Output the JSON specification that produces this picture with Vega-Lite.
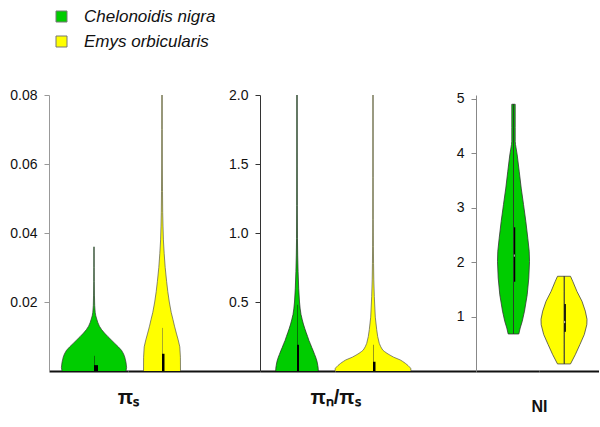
{
"$schema":"https://vega.github.io/schema/vega-lite/v6.json",
"padding":{"left":9,"top":8,"right":0,"bottom":0},
"bounds":"flush",
"spacing":0,
"config":{"view":{"stroke":null}},
"datasets":{
"violin":[
{"p":"piS","sp":"Chelonoidis nigra","v":0,"w":32.0},
{"p":"piS","sp":"Chelonoidis nigra","v":0.001,"w":32.6},
{"p":"piS","sp":"Chelonoidis nigra","v":0.0025,"w":32.0},
{"p":"piS","sp":"Chelonoidis nigra","v":0.004,"w":30.8},
{"p":"piS","sp":"Chelonoidis nigra","v":0.005,"w":29.5},
{"p":"piS","sp":"Chelonoidis nigra","v":0.006,"w":27.5},
{"p":"piS","sp":"Chelonoidis nigra","v":0.007,"w":24.3},
{"p":"piS","sp":"Chelonoidis nigra","v":0.008,"w":20.8},
{"p":"piS","sp":"Chelonoidis nigra","v":0.009,"w":17.3},
{"p":"piS","sp":"Chelonoidis nigra","v":0.010,"w":13.8},
{"p":"piS","sp":"Chelonoidis nigra","v":0.011,"w":10.5},
{"p":"piS","sp":"Chelonoidis nigra","v":0.012,"w":7.6},
{"p":"piS","sp":"Chelonoidis nigra","v":0.013,"w":5.4},
{"p":"piS","sp":"Chelonoidis nigra","v":0.014,"w":3.9},
{"p":"piS","sp":"Chelonoidis nigra","v":0.015,"w":2.8},
{"p":"piS","sp":"Chelonoidis nigra","v":0.016,"w":1.8},
{"p":"piS","sp":"Chelonoidis nigra","v":0.017,"w":1.2},
{"p":"piS","sp":"Chelonoidis nigra","v":0.019,"w":0.7},
{"p":"piS","sp":"Chelonoidis nigra","v":0.022,"w":0.45},
{"p":"piS","sp":"Chelonoidis nigra","v":0.026,"w":0.3},
{"p":"piS","sp":"Chelonoidis nigra","v":0.030,"w":0.25},
{"p":"piS","sp":"Chelonoidis nigra","v":0.036,"w":0.2},
{"p":"piS","sp":"Emys orbicularis","v":0,"w":18.5},
{"p":"piS","sp":"Emys orbicularis","v":0.004,"w":18.4},
{"p":"piS","sp":"Emys orbicularis","v":0.007,"w":17.8},
{"p":"piS","sp":"Emys orbicularis","v":0.009,"w":16.2},
{"p":"piS","sp":"Emys orbicularis","v":0.011,"w":14.3},
{"p":"piS","sp":"Emys orbicularis","v":0.013,"w":12.5},
{"p":"piS","sp":"Emys orbicularis","v":0.015,"w":10.9},
{"p":"piS","sp":"Emys orbicularis","v":0.017,"w":9.2},
{"p":"piS","sp":"Emys orbicularis","v":0.020,"w":7.3},
{"p":"piS","sp":"Emys orbicularis","v":0.023,"w":5.8},
{"p":"piS","sp":"Emys orbicularis","v":0.026,"w":4.6},
{"p":"piS","sp":"Emys orbicularis","v":0.030,"w":3.2},
{"p":"piS","sp":"Emys orbicularis","v":0.034,"w":2.2},
{"p":"piS","sp":"Emys orbicularis","v":0.038,"w":1.4},
{"p":"piS","sp":"Emys orbicularis","v":0.042,"w":1.0},
{"p":"piS","sp":"Emys orbicularis","v":0.046,"w":0.7},
{"p":"piS","sp":"Emys orbicularis","v":0.052,"w":0.5},
{"p":"piS","sp":"Emys orbicularis","v":0.060,"w":0.35},
{"p":"piS","sp":"Emys orbicularis","v":0.070,"w":0.3},
{"p":"piS","sp":"Emys orbicularis","v":0.080,"w":0.25},
{"p":"ratio","sp":"Chelonoidis nigra","v":0,"w":21.3},
{"p":"ratio","sp":"Chelonoidis nigra","v":0.02,"w":21.2},
{"p":"ratio","sp":"Chelonoidis nigra","v":0.04,"w":20.8},
{"p":"ratio","sp":"Chelonoidis nigra","v":0.07,"w":20.0},
{"p":"ratio","sp":"Chelonoidis nigra","v":0.10,"w":18.7},
{"p":"ratio","sp":"Chelonoidis nigra","v":0.12,"w":17.6},
{"p":"ratio","sp":"Chelonoidis nigra","v":0.15,"w":16.0},
{"p":"ratio","sp":"Chelonoidis nigra","v":0.17,"w":14.8},
{"p":"ratio","sp":"Chelonoidis nigra","v":0.20,"w":13.2},
{"p":"ratio","sp":"Chelonoidis nigra","v":0.22,"w":12.0},
{"p":"ratio","sp":"Chelonoidis nigra","v":0.25,"w":10.6},
{"p":"ratio","sp":"Chelonoidis nigra","v":0.28,"w":9.1},
{"p":"ratio","sp":"Chelonoidis nigra","v":0.31,"w":7.7},
{"p":"ratio","sp":"Chelonoidis nigra","v":0.34,"w":6.4},
{"p":"ratio","sp":"Chelonoidis nigra","v":0.37,"w":5.3},
{"p":"ratio","sp":"Chelonoidis nigra","v":0.41,"w":4.0},
{"p":"ratio","sp":"Chelonoidis nigra","v":0.45,"w":3.2},
{"p":"ratio","sp":"Chelonoidis nigra","v":0.50,"w":2.5},
{"p":"ratio","sp":"Chelonoidis nigra","v":0.60,"w":1.7},
{"p":"ratio","sp":"Chelonoidis nigra","v":0.72,"w":1.1},
{"p":"ratio","sp":"Chelonoidis nigra","v":0.84,"w":0.7},
{"p":"ratio","sp":"Chelonoidis nigra","v":0.96,"w":0.45},
{"p":"ratio","sp":"Chelonoidis nigra","v":1.2,"w":0.3},
{"p":"ratio","sp":"Chelonoidis nigra","v":1.5,"w":0.25},
{"p":"ratio","sp":"Chelonoidis nigra","v":2.0,"w":0.2},
{"p":"ratio","sp":"Emys orbicularis","v":0,"w":38.0},
{"p":"ratio","sp":"Emys orbicularis","v":0.02,"w":37.7},
{"p":"ratio","sp":"Emys orbicularis","v":0.04,"w":35.0},
{"p":"ratio","sp":"Emys orbicularis","v":0.056,"w":32.3},
{"p":"ratio","sp":"Emys orbicularis","v":0.07,"w":29.5},
{"p":"ratio","sp":"Emys orbicularis","v":0.08,"w":27.3},
{"p":"ratio","sp":"Emys orbicularis","v":0.09,"w":24.0},
{"p":"ratio","sp":"Emys orbicularis","v":0.10,"w":20.7},
{"p":"ratio","sp":"Emys orbicularis","v":0.115,"w":17.0},
{"p":"ratio","sp":"Emys orbicularis","v":0.128,"w":14.0},
{"p":"ratio","sp":"Emys orbicularis","v":0.14,"w":11.7},
{"p":"ratio","sp":"Emys orbicularis","v":0.152,"w":9.7},
{"p":"ratio","sp":"Emys orbicularis","v":0.175,"w":7.8},
{"p":"ratio","sp":"Emys orbicularis","v":0.20,"w":6.3},
{"p":"ratio","sp":"Emys orbicularis","v":0.25,"w":4.7},
{"p":"ratio","sp":"Emys orbicularis","v":0.30,"w":3.7},
{"p":"ratio","sp":"Emys orbicularis","v":0.39,"w":2.3},
{"p":"ratio","sp":"Emys orbicularis","v":0.54,"w":1.3},
{"p":"ratio","sp":"Emys orbicularis","v":0.66,"w":0.8},
{"p":"ratio","sp":"Emys orbicularis","v":0.78,"w":0.55},
{"p":"ratio","sp":"Emys orbicularis","v":0.90,"w":0.4},
{"p":"ratio","sp":"Emys orbicularis","v":1.1,"w":0.3},
{"p":"ratio","sp":"Emys orbicularis","v":1.4,"w":0.25},
{"p":"ratio","sp":"Emys orbicularis","v":2.0,"w":0.2},
{"p":"NI","sp":"Chelonoidis nigra","v":0.68,"w":5.3},
{"p":"NI","sp":"Chelonoidis nigra","v":0.79,"w":6.7},
{"p":"NI","sp":"Chelonoidis nigra","v":0.91,"w":8.7},
{"p":"NI","sp":"Chelonoidis nigra","v":1.10,"w":11.0},
{"p":"NI","sp":"Chelonoidis nigra","v":1.40,"w":13.7},
{"p":"NI","sp":"Chelonoidis nigra","v":1.71,"w":15.3},
{"p":"NI","sp":"Chelonoidis nigra","v":2.01,"w":16.0},
{"p":"NI","sp":"Chelonoidis nigra","v":2.20,"w":15.7},
{"p":"NI","sp":"Chelonoidis nigra","v":2.44,"w":14.3},
{"p":"NI","sp":"Chelonoidis nigra","v":2.75,"w":12.3},
{"p":"NI","sp":"Chelonoidis nigra","v":3.06,"w":10.0},
{"p":"NI","sp":"Chelonoidis nigra","v":3.36,"w":7.7},
{"p":"NI","sp":"Chelonoidis nigra","v":3.67,"w":5.7},
{"p":"NI","sp":"Chelonoidis nigra","v":3.97,"w":3.7},
{"p":"NI","sp":"Chelonoidis nigra","v":4.16,"w":2.0},
{"p":"NI","sp":"Chelonoidis nigra","v":4.22,"w":1.7},
{"p":"NI","sp":"Chelonoidis nigra","v":4.47,"w":1.7},
{"p":"NI","sp":"Chelonoidis nigra","v":4.90,"w":1.7},
{"p":"NI","sp":"Emys orbicularis","v":0.13,"w":6.5},
{"p":"NI","sp":"Emys orbicularis","v":0.30,"w":11.3},
{"p":"NI","sp":"Emys orbicularis","v":0.49,"w":16.0},
{"p":"NI","sp":"Emys orbicularis","v":0.67,"w":20.3},
{"p":"NI","sp":"Emys orbicularis","v":0.85,"w":22.8},
{"p":"NI","sp":"Emys orbicularis","v":0.95,"w":23.0},
{"p":"NI","sp":"Emys orbicularis","v":1.10,"w":21.3},
{"p":"NI","sp":"Emys orbicularis","v":1.28,"w":18.0},
{"p":"NI","sp":"Emys orbicularis","v":1.46,"w":13.0},
{"p":"NI","sp":"Emys orbicularis","v":1.65,"w":8.7},
{"p":"NI","sp":"Emys orbicularis","v":1.74,"w":6.5}
],
"box":[
{"p":"piS","sp":"Chelonoidis nigra","q1":0,"q3":0.0017,"lo":0,"hi":0.0044},
{"p":"piS","sp":"Emys orbicularis","q1":0,"q3":0.005,"lo":0,"hi":0.0125},
{"p":"ratio","sp":"Chelonoidis nigra","q1":0,"q3":0.19,"lo":0,"hi":0.48},
{"p":"ratio","sp":"Emys orbicularis","q1":0,"q3":0.067,"lo":0,"hi":0.19},
{"p":"NI","sp":"Chelonoidis nigra","q1":1.64,"q3":2.64,"lo":0.68,"hi":4.90,"med":2.12},
{"p":"NI","sp":"Emys orbicularis","q1":0.72,"q3":1.23,"lo":0.13,"hi":1.74,"med":0.90}
]
},
"hconcat":[
{
"width":79,"height":276,
"resolve":{"scale":{"x":"independent"}},
"layer":[
{"layer":[
{"data":{"name":"violin"},"transform":[{"filter":"datum.p=='piS' && datum.sp=='Chelonoidis nigra'"}],
"mark":{"type":"area","orient":"horizontal","opacity":1},
"encoding":{
"y":{"field":"v","type":"quantitative","title":null,"scale":{"domain":[0,0.08],"nice":false,"zero":false},"axis":{"values":[0.02,0.04,0.06,0.08],"format":".2f","title":null,"grid":false,"domainColor":"#999","tickColor":"#999","tickSize":5,"labelFontSize":14,"labelFont":"Liberation Sans","labelColor":"#111","labelPadding":7}},
"x":{"field":"w","type":"quantitative","scale":{"domain":[-45,34],"nice":false,"zero":false},"axis":{"title":"πₛ","ticks":false,"labels":false,"grid":false,"domainColor":"#111","domainWidth":2,"titleFont":"Liberation Sans","titleFontSize":20,"titleFontWeight":"bold","titleColor":"#111","titleAnchor":"end","titleAlign":"center","titlePadding":16}},
"x2":{"datum":0},
"fill":{"field":"sp","type":"nominal","scale":{"domain":["Chelonoidis nigra","Emys orbicularis"],"range":["#00cc00","#ffff00"]},"legend":{"orient":"none","legendX":4,"legendY":-87,"title":null,"symbolType":"square","symbolSize":121,"symbolStrokeColor":"#777","symbolStrokeWidth":1,"symbolOpacity":1,"labelFontSize":17,"labelFontStyle":"italic","labelFont":"Liberation Sans","labelColor":"#111","labelOffset":14,"rowPadding":7,"padding":0}}}},
{"data":{"name":"violin"},"transform":[{"filter":"datum.p=='piS' && datum.sp=='Chelonoidis nigra'"}],
"mark":{"type":"line","stroke":"#333","strokeWidth":0.7},
"encoding":{
"y":{"field":"v","type":"quantitative","title":null,"scale":{"domain":[0,0.08],"nice":false,"zero":false}},
"x":{"field":"w","type":"quantitative","scale":{"domain":[-45,34],"nice":false,"zero":false}},
"order":{"field":"v","type":"quantitative"}}},
{"data":{"name":"box"},"transform":[{"filter":"datum.p=='piS' && datum.sp=='Chelonoidis nigra'"}],
"mark":{"type":"rule","color":"#111","strokeWidth":1},
"encoding":{
"y":{"field":"lo","type":"quantitative","title":null,"scale":{"domain":[0,0.08],"nice":false,"zero":false}},
"y2":{"field":"hi"},
"x":{"datum":0,"type":"quantitative","scale":{"domain":[-45,34],"nice":false,"zero":false}}}},
{"data":{"name":"box"},"transform":[{"filter":"datum.p=='piS' && datum.sp=='Chelonoidis nigra'"}],
"mark":{"type":"rule","color":"#000","strokeWidth":8},
"encoding":{
"y":{"field":"q1","type":"quantitative","title":null,"scale":{"domain":[0,0.08],"nice":false,"zero":false}},
"y2":{"field":"q3"},
"x":{"datum":0,"type":"quantitative","scale":{"domain":[-45,34],"nice":false,"zero":false}}}}
]},
{"layer":[
{"data":{"name":"violin"},"transform":[{"filter":"datum.p=='piS' && datum.sp=='Chelonoidis nigra'"}],
"mark":{"type":"area","orient":"horizontal","opacity":1},
"encoding":{
"y":{"field":"v","type":"quantitative","title":null,"scale":{"domain":[0,0.08],"nice":false,"zero":false}},
"x":{"field":"w","type":"quantitative","scale":{"domain":[-34,45],"nice":false,"zero":false,"reverse":true},"axis":null},
"x2":{"datum":0},
"fill":{"field":"sp","type":"nominal","scale":{"domain":["Chelonoidis nigra","Emys orbicularis"],"range":["#00cc00","#ffff00"]}}}},
{"data":{"name":"violin"},"transform":[{"filter":"datum.p=='piS' && datum.sp=='Chelonoidis nigra'"}],
"mark":{"type":"line","stroke":"#333","strokeWidth":0.7},
"encoding":{
"y":{"field":"v","type":"quantitative","title":null,"scale":{"domain":[0,0.08],"nice":false,"zero":false}},
"x":{"field":"w","type":"quantitative","scale":{"domain":[-34,45],"nice":false,"zero":false,"reverse":true},"axis":null},
"order":{"field":"v","type":"quantitative"}}}
]}
]
},
{
"width":132,"height":276,
"resolve":{"scale":{"x":"independent"}},
"layer":[
{"layer":[
{"data":{"name":"violin"},"transform":[{"filter":"datum.p=='piS' && datum.sp=='Emys orbicularis'"}],
"mark":{"type":"area","orient":"horizontal","opacity":1},
"encoding":{
"y":{"field":"v","type":"quantitative","scale":{"domain":[0,0.08],"nice":false,"zero":false},"axis":null},
"x":{"field":"w","type":"quantitative","scale":{"domain":[-34,98],"nice":false,"zero":false},"axis":{"title":null,"ticks":false,"labels":false,"grid":false,"domainColor":"#111","domainWidth":2}},
"x2":{"datum":0},
"fill":{"field":"sp","type":"nominal","scale":{"domain":["Chelonoidis nigra","Emys orbicularis"],"range":["#00cc00","#ffff00"]}}}},
{"data":{"name":"violin"},"transform":[{"filter":"datum.p=='piS' && datum.sp=='Emys orbicularis'"}],
"mark":{"type":"line","stroke":"#555","strokeWidth":0.7},
"encoding":{
"y":{"field":"v","type":"quantitative","scale":{"domain":[0,0.08],"nice":false,"zero":false},"axis":null},
"x":{"field":"w","type":"quantitative","scale":{"domain":[-34,98],"nice":false,"zero":false}},
"order":{"field":"v","type":"quantitative"}}},
{"data":{"name":"box"},"transform":[{"filter":"datum.p=='piS' && datum.sp=='Emys orbicularis'"}],
"mark":{"type":"rule","color":"#555","strokeWidth":1},
"encoding":{
"y":{"field":"lo","type":"quantitative","scale":{"domain":[0,0.08],"nice":false,"zero":false},"axis":null},
"y2":{"field":"hi"},
"x":{"datum":0,"type":"quantitative","scale":{"domain":[-34,98],"nice":false,"zero":false}}}},
{"data":{"name":"box"},"transform":[{"filter":"datum.p=='piS' && datum.sp=='Emys orbicularis'"}],
"mark":{"type":"rule","color":"#000","strokeWidth":5},
"encoding":{
"y":{"field":"q1","type":"quantitative","scale":{"domain":[0,0.08],"nice":false,"zero":false},"axis":null},
"y2":{"field":"q3"},
"x":{"datum":0,"type":"quantitative","scale":{"domain":[-34,98],"nice":false,"zero":false}}}}
]},
{"layer":[
{"data":{"name":"violin"},"transform":[{"filter":"datum.p=='piS' && datum.sp=='Emys orbicularis'"}],
"mark":{"type":"area","orient":"horizontal","opacity":1},
"encoding":{
"y":{"field":"v","type":"quantitative","scale":{"domain":[0,0.08],"nice":false,"zero":false},"axis":null},
"x":{"field":"w","type":"quantitative","scale":{"domain":[-98,34],"nice":false,"zero":false,"reverse":true},"axis":null},
"x2":{"datum":0},
"fill":{"field":"sp","type":"nominal","scale":{"domain":["Chelonoidis nigra","Emys orbicularis"],"range":["#00cc00","#ffff00"]}}}},
{"data":{"name":"violin"},"transform":[{"filter":"datum.p=='piS' && datum.sp=='Emys orbicularis'"}],
"mark":{"type":"line","stroke":"#555","strokeWidth":0.7},
"encoding":{
"y":{"field":"v","type":"quantitative","scale":{"domain":[0,0.08],"nice":false,"zero":false},"axis":null},
"x":{"field":"w","type":"quantitative","scale":{"domain":[-98,34],"nice":false,"zero":false,"reverse":true},"axis":null},
"order":{"field":"v","type":"quantitative"}}}
]}
]
},
{
"width":75,"height":276,
"resolve":{"scale":{"x":"independent"}},
"layer":[
{"layer":[
{"data":{"name":"violin"},"transform":[{"filter":"datum.p=='ratio' && datum.sp=='Chelonoidis nigra'"}],
"mark":{"type":"area","orient":"horizontal","opacity":1},
"encoding":{
"y":{"field":"v","type":"quantitative","title":null,"scale":{"domain":[0,2],"nice":false,"zero":false},"axis":{"values":[0.5,1,1.5,2],"format":".1f","title":null,"grid":false,"domainColor":"#333","tickColor":"#333","tickSize":5,"labelFontSize":14,"labelFont":"Liberation Sans","labelColor":"#111","labelPadding":7}},
"x":{"field":"w","type":"quantitative","scale":{"domain":[-37,38],"nice":false,"zero":false},"axis":{"title":"πₙ/πₛ","ticks":false,"labels":false,"grid":false,"domainColor":"#111","domainWidth":2,"titleFont":"Liberation Sans","titleFontSize":20,"titleFontWeight":"bold","titleColor":"#111","titleAnchor":"end","titleAlign":"center","titlePadding":16}},
"x2":{"datum":0},
"fill":{"field":"sp","type":"nominal","scale":{"domain":["Chelonoidis nigra","Emys orbicularis"],"range":["#00cc00","#ffff00"]}}}},
{"data":{"name":"violin"},"transform":[{"filter":"datum.p=='ratio' && datum.sp=='Chelonoidis nigra'"}],
"mark":{"type":"line","stroke":"#222","strokeWidth":0.7},
"encoding":{
"y":{"field":"v","type":"quantitative","title":null,"scale":{"domain":[0,2],"nice":false,"zero":false}},
"x":{"field":"w","type":"quantitative","scale":{"domain":[-37,38],"nice":false,"zero":false}},
"order":{"field":"v","type":"quantitative"}}},
{"data":{"name":"box"},"transform":[{"filter":"datum.p=='ratio' && datum.sp=='Chelonoidis nigra'"}],
"mark":{"type":"rule","color":"#111","strokeWidth":1},
"encoding":{
"y":{"field":"lo","type":"quantitative","title":null,"scale":{"domain":[0,2],"nice":false,"zero":false}},
"y2":{"field":"hi"},
"x":{"datum":0,"type":"quantitative","scale":{"domain":[-37,38],"nice":false,"zero":false}}}},
{"data":{"name":"box"},"transform":[{"filter":"datum.p=='ratio' && datum.sp=='Chelonoidis nigra'"}],
"mark":{"type":"rule","color":"#000","strokeWidth":4},
"encoding":{
"y":{"field":"q1","type":"quantitative","title":null,"scale":{"domain":[0,2],"nice":false,"zero":false}},
"y2":{"field":"q3"},
"x":{"datum":0,"type":"quantitative","scale":{"domain":[-37,38],"nice":false,"zero":false}}}}
]},
{"layer":[
{"data":{"name":"violin"},"transform":[{"filter":"datum.p=='ratio' && datum.sp=='Chelonoidis nigra'"}],
"mark":{"type":"area","orient":"horizontal","opacity":1},
"encoding":{
"y":{"field":"v","type":"quantitative","title":null,"scale":{"domain":[0,2],"nice":false,"zero":false}},
"x":{"field":"w","type":"quantitative","scale":{"domain":[-38,37],"nice":false,"zero":false,"reverse":true},"axis":null},
"x2":{"datum":0},
"fill":{"field":"sp","type":"nominal","scale":{"domain":["Chelonoidis nigra","Emys orbicularis"],"range":["#00cc00","#ffff00"]}}}},
{"data":{"name":"violin"},"transform":[{"filter":"datum.p=='ratio' && datum.sp=='Chelonoidis nigra'"}],
"mark":{"type":"line","stroke":"#222","strokeWidth":0.7},
"encoding":{
"y":{"field":"v","type":"quantitative","title":null,"scale":{"domain":[0,2],"nice":false,"zero":false}},
"x":{"field":"w","type":"quantitative","scale":{"domain":[-38,37],"nice":false,"zero":false,"reverse":true},"axis":null},
"order":{"field":"v","type":"quantitative"}}}
]}
]
},
{
"width":141,"height":276,
"resolve":{"scale":{"x":"independent"}},
"layer":[
{"layer":[
{"data":{"name":"violin"},"transform":[{"filter":"datum.p=='ratio' && datum.sp=='Emys orbicularis'"}],
"mark":{"type":"area","orient":"horizontal","opacity":1},
"encoding":{
"y":{"field":"v","type":"quantitative","scale":{"domain":[0,2],"nice":false,"zero":false},"axis":null},
"x":{"field":"w","type":"quantitative","scale":{"domain":[-38,103],"nice":false,"zero":false},"axis":{"title":null,"ticks":false,"labels":false,"grid":false,"domainColor":"#111","domainWidth":2}},
"x2":{"datum":0},
"fill":{"field":"sp","type":"nominal","scale":{"domain":["Chelonoidis nigra","Emys orbicularis"],"range":["#00cc00","#ffff00"]}}}},
{"data":{"name":"violin"},"transform":[{"filter":"datum.p=='ratio' && datum.sp=='Emys orbicularis'"}],
"mark":{"type":"line","stroke":"#555","strokeWidth":0.7},
"encoding":{
"y":{"field":"v","type":"quantitative","scale":{"domain":[0,2],"nice":false,"zero":false},"axis":null},
"x":{"field":"w","type":"quantitative","scale":{"domain":[-38,103],"nice":false,"zero":false}},
"order":{"field":"v","type":"quantitative"}}},
{"data":{"name":"box"},"transform":[{"filter":"datum.p=='ratio' && datum.sp=='Emys orbicularis'"}],
"mark":{"type":"rule","color":"#333","strokeWidth":1},
"encoding":{
"y":{"field":"lo","type":"quantitative","scale":{"domain":[0,2],"nice":false,"zero":false},"axis":null},
"y2":{"field":"hi"},
"x":{"datum":0,"type":"quantitative","scale":{"domain":[-38,103],"nice":false,"zero":false}}}},
{"data":{"name":"box"},"transform":[{"filter":"datum.p=='ratio' && datum.sp=='Emys orbicularis'"}],
"mark":{"type":"rule","color":"#000","strokeWidth":5},
"encoding":{
"y":{"field":"q1","type":"quantitative","scale":{"domain":[0,2],"nice":false,"zero":false},"axis":null},
"y2":{"field":"q3"},
"x":{"datum":0,"type":"quantitative","scale":{"domain":[-38,103],"nice":false,"zero":false}}}}
]},
{"layer":[
{"data":{"name":"violin"},"transform":[{"filter":"datum.p=='ratio' && datum.sp=='Emys orbicularis'"}],
"mark":{"type":"area","orient":"horizontal","opacity":1},
"encoding":{
"y":{"field":"v","type":"quantitative","scale":{"domain":[0,2],"nice":false,"zero":false},"axis":null},
"x":{"field":"w","type":"quantitative","scale":{"domain":[-103,38],"nice":false,"zero":false,"reverse":true},"axis":null},
"x2":{"datum":0},
"fill":{"field":"sp","type":"nominal","scale":{"domain":["Chelonoidis nigra","Emys orbicularis"],"range":["#00cc00","#ffff00"]}}}},
{"data":{"name":"violin"},"transform":[{"filter":"datum.p=='ratio' && datum.sp=='Emys orbicularis'"}],
"mark":{"type":"line","stroke":"#555","strokeWidth":0.7},
"encoding":{
"y":{"field":"v","type":"quantitative","scale":{"domain":[0,2],"nice":false,"zero":false},"axis":null},
"x":{"field":"w","type":"quantitative","scale":{"domain":[-103,38],"nice":false,"zero":false,"reverse":true},"axis":null},
"order":{"field":"v","type":"quantitative"}}}
]}
]
},
{
"width":63,"height":276,
"resolve":{"scale":{"x":"independent"}},
"layer":[
{"layer":[
{"data":{"name":"violin"},"transform":[{"filter":"datum.p=='NI' && datum.sp=='Chelonoidis nigra'"}],
"mark":{"type":"area","orient":"horizontal","opacity":1,"stroke":"#333","strokeWidth":0.8},
"encoding":{
"y":{"field":"v","type":"quantitative","title":null,"scale":{"domain":[0,5.07],"nice":false,"zero":false},"axis":{"values":[1,2,3,4,5],"format":"d","title":null,"grid":false,"domainColor":"#888","tickColor":"#888","tickSize":5,"labelFontSize":14,"labelFont":"Liberation Sans","labelColor":"#111","labelPadding":7}},
"x":{"field":"w","type":"quantitative","scale":{"domain":[-37.5,25.5],"nice":false,"zero":false},"axis":{"title":"NI","ticks":false,"labels":false,"grid":false,"domainColor":"#111","domainWidth":2,"titleFont":"Liberation Sans","titleFontSize":16,"titleFontWeight":"bold","titleColor":"#111","titleAnchor":"end","titleAlign":"center","titlePadding":27}},
"x2":{"datum":0},
"fill":{"field":"sp","type":"nominal","scale":{"domain":["Chelonoidis nigra","Emys orbicularis"],"range":["#00cc00","#ffff00"]}}}},
{"data":{"name":"box"},"transform":[{"filter":"datum.p=='NI' && datum.sp=='Chelonoidis nigra'"}],
"mark":{"type":"rule","color":"#111","strokeWidth":1},
"encoding":{
"y":{"field":"lo","type":"quantitative","title":null,"scale":{"domain":[0,5.07],"nice":false,"zero":false}},
"y2":{"field":"hi"},
"x":{"datum":0,"type":"quantitative","scale":{"domain":[-37.5,25.5],"nice":false,"zero":false}}}},
{"data":{"name":"box"},"transform":[{"filter":"datum.p=='NI' && datum.sp=='Chelonoidis nigra'"}],
"mark":{"type":"rule","color":"#000","strokeWidth":3.5},
"encoding":{
"y":{"field":"q1","type":"quantitative","title":null,"scale":{"domain":[0,5.07],"nice":false,"zero":false}},
"y2":{"field":"q3"},
"x":{"datum":0,"type":"quantitative","scale":{"domain":[-37.5,25.5],"nice":false,"zero":false}}}},
{"data":{"name":"box"},"transform":[{"filter":"datum.p=='NI' && datum.sp=='Chelonoidis nigra'"}],
"mark":{"type":"point","shape":"square","filled":true,"color":"#fff","size":5,"opacity":1},
"encoding":{
"y":{"field":"med","type":"quantitative","title":null,"scale":{"domain":[0,5.07],"nice":false,"zero":false}},
"x":{"datum":0,"type":"quantitative","scale":{"domain":[-37.5,25.5],"nice":false,"zero":false}}}}
]},
{"layer":[
{"data":{"name":"violin"},"transform":[{"filter":"datum.p=='NI' && datum.sp=='Chelonoidis nigra'"}],
"mark":{"type":"area","orient":"horizontal","opacity":1,"stroke":"#333","strokeWidth":0.8},
"encoding":{
"y":{"field":"v","type":"quantitative","title":null,"scale":{"domain":[0,5.07],"nice":false,"zero":false}},
"x":{"field":"w","type":"quantitative","scale":{"domain":[-25.5,37.5],"nice":false,"zero":false,"reverse":true},"axis":null},
"x2":{"datum":0},
"fill":{"field":"sp","type":"nominal","scale":{"domain":["Chelonoidis nigra","Emys orbicularis"],"range":["#00cc00","#ffff00"]}}}}
]}
]
},
{
"width":60,"height":276,
"resolve":{"scale":{"x":"independent"}},
"layer":[
{"layer":[
{"data":{"name":"violin"},"transform":[{"filter":"datum.p=='NI' && datum.sp=='Emys orbicularis'"}],
"mark":{"type":"area","orient":"horizontal","opacity":1,"stroke":"#444","strokeWidth":0.8},
"encoding":{
"y":{"field":"v","type":"quantitative","scale":{"domain":[0,5.07],"nice":false,"zero":false},"axis":null},
"x":{"field":"w","type":"quantitative","scale":{"domain":[-25,35],"nice":false,"zero":false},"axis":{"title":null,"ticks":false,"labels":false,"grid":false,"domainColor":"#111","domainWidth":2}},
"x2":{"datum":0},
"fill":{"field":"sp","type":"nominal","scale":{"domain":["Chelonoidis nigra","Emys orbicularis"],"range":["#00cc00","#ffff00"]}}}},
{"data":{"name":"box"},"transform":[{"filter":"datum.p=='NI' && datum.sp=='Emys orbicularis'"}],
"mark":{"type":"rule","color":"#222","strokeWidth":1},
"encoding":{
"y":{"field":"lo","type":"quantitative","scale":{"domain":[0,5.07],"nice":false,"zero":false},"axis":null},
"y2":{"field":"hi"},
"x":{"datum":0,"type":"quantitative","scale":{"domain":[-25,35],"nice":false,"zero":false}}}},
{"data":{"name":"box"},"transform":[{"filter":"datum.p=='NI' && datum.sp=='Emys orbicularis'"}],
"mark":{"type":"rule","color":"#000","strokeWidth":3.7},
"encoding":{
"y":{"field":"q1","type":"quantitative","scale":{"domain":[0,5.07],"nice":false,"zero":false},"axis":null},
"y2":{"field":"q3"},
"x":{"datum":0,"type":"quantitative","scale":{"domain":[-25,35],"nice":false,"zero":false}}}},
{"data":{"name":"box"},"transform":[{"filter":"datum.p=='NI' && datum.sp=='Emys orbicularis'"}],
"mark":{"type":"point","shape":"square","filled":true,"color":"#fff","size":5,"opacity":1},
"encoding":{
"y":{"field":"med","type":"quantitative","scale":{"domain":[0,5.07],"nice":false,"zero":false},"axis":null},
"x":{"datum":0,"type":"quantitative","scale":{"domain":[-25,35],"nice":false,"zero":false}}}}
]},
{"layer":[
{"data":{"name":"violin"},"transform":[{"filter":"datum.p=='NI' && datum.sp=='Emys orbicularis'"}],
"mark":{"type":"area","orient":"horizontal","opacity":1,"stroke":"#444","strokeWidth":0.8},
"encoding":{
"y":{"field":"v","type":"quantitative","scale":{"domain":[0,5.07],"nice":false,"zero":false},"axis":null},
"x":{"field":"w","type":"quantitative","scale":{"domain":[-35,25],"nice":false,"zero":false,"reverse":true},"axis":null},
"x2":{"datum":0},
"fill":{"field":"sp","type":"nominal","scale":{"domain":["Chelonoidis nigra","Emys orbicularis"],"range":["#00cc00","#ffff00"]}}}}
]}
]
}
]
}
